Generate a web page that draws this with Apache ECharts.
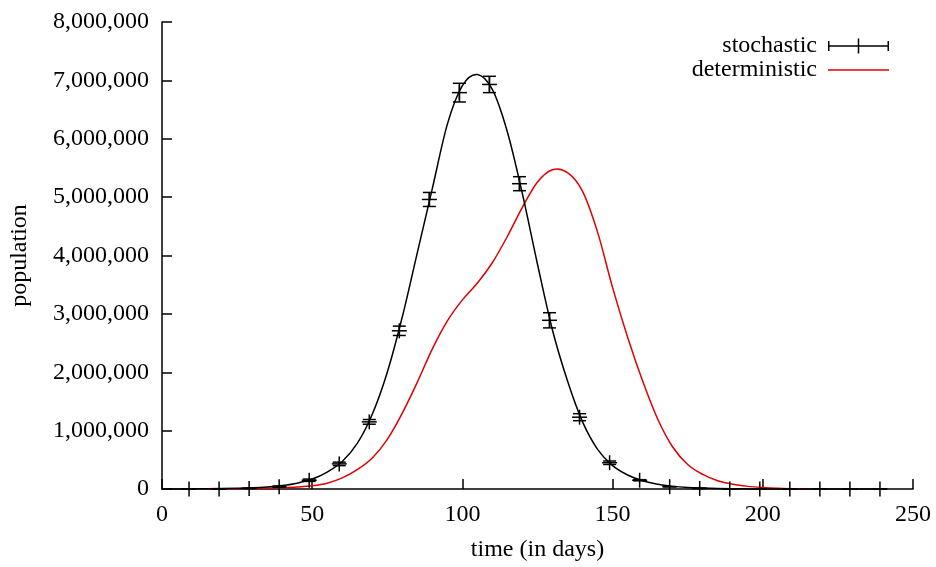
<!DOCTYPE html>
<html>
<head>
    <meta charset="UTF-8">
    <title>population over time</title>
    <script src="https://cdn.jsdelivr.net/npm/echarts@6/dist/echarts.min.js"></script>
    <style>
        body { margin: 0; background: #fff; }
    </style>
</head>
<body>
<div id="container" style="width: 936px; height: 567px;"></div>
<script>

    // axis ticks
    var xTicks = [0, 50, 100, 150, 200, 250];
    var yTicks = [0, 1000000, 2000000, 3000000, 4000000, 5000000, 6000000, 7000000, 8000000];

    // stochastic runs: mean and error, in millions
    var stochDays = [9, 19, 29, 39, 49, 59, 69, 79, 89, 99, 109, 119, 129, 139, 149, 159, 169, 179, 189, 199, 209, 219, 229, 239];
    var stochMean = [0, 0, 0.01, 0.04, 0.15, 0.43, 1.15, 2.71, 4.96, 6.79, 6.93, 5.23, 2.89, 1.23, 0.45, 0.15, 0.04, 0.01, 0, 0, 0, 0, 0, 0];
    var stochErr  = [0, 0, 0, 0.01, 0.02, 0.03, 0.04, 0.08, 0.12, 0.16, 0.14, 0.12, 0.13, 0.06, 0.03, 0.01, 0, 0, 0, 0, 0, 0, 0, 0];

    // smooth curve through the stochastic runs, in millions
    var curveDays = [0, 5, 10, 15, 20, 25, 30, 35, 40, 45, 50, 55, 60, 65, 70, 75, 80, 85, 90, 95, 100, 105, 110, 115, 120,
                     125, 130, 135, 140, 145, 150, 155, 160, 165, 170, 175, 180, 185, 190, 195, 200, 205, 210, 220, 230, 240];
    var curveVals = [0, 0, 0.002, 0.004, 0.007, 0.012, 0.02, 0.035, 0.06, 0.1, 0.17, 0.29, 0.47, 0.78, 1.28, 2.0, 2.95, 4.05, 5.15, 6.25, 6.91, 7.1, 6.84, 6.11, 5.05,
                     3.85, 2.72, 1.85, 1.15, 0.68, 0.4, 0.24, 0.14, 0.08, 0.045, 0.025, 0.015, 0.008, 0.004, 0.002, 0.001, 0, 0, 0, 0, 0];

    // deterministic model, in millions
    var detDays = [15, 20, 25, 30, 35, 40, 45, 50, 55, 60, 65, 70, 75, 80, 85, 90, 95, 100, 105, 110, 115, 120, 125,
                   130, 135, 140, 145, 150, 155, 160, 165, 170, 175, 180, 185, 190, 195, 200, 205, 210, 215];
    var detVals = [0, 0.002, 0.004, 0.007, 0.012, 0.02, 0.033, 0.055, 0.1, 0.19, 0.33, 0.53, 0.85, 1.3, 1.83, 2.4, 2.88, 3.24, 3.53, 3.88, 4.33, 4.83, 5.26,
                   5.47, 5.42, 5.1, 4.4, 3.45, 2.6, 1.85, 1.2, 0.72, 0.42, 0.25, 0.14, 0.08, 0.045, 0.025, 0.012, 0.005, 0];

    var M = 1000000;
    var font = 'Liberation Serif';

    function pairs(xs, ys) {
        var out = [];
        for (var i = 0; i < xs.length; i++) out.push([xs[i], ys[i] * M]);
        return out;
    }
    var errData = [];
    for (var i = 0; i < stochDays.length; i++) {
        errData.push([stochDays[i], stochMean[i] * M, stochErr[i] * M]);
    }

    function commas(v) {
        return String(v).replace(/\B(?=(\d{3})+(?!\d))/g, ',');
    }

    // catmull-rom curve through the points, drawn once per series
    function splineRender(xs, ys, color) {
        return function (params, api) {
            if (params.dataIndex !== 0) return null;
            var p = [];
            for (var i = 0; i < xs.length; i++) p.push(api.coord([xs[i], ys[i] * M]));
            var d = 'M' + p[0][0] + ',' + p[0][1];
            for (var j = 0; j < p.length - 1; j++) {
                var p0 = p[Math.max(j - 1, 0)], p1 = p[j], p2 = p[j + 1], p3 = p[Math.min(j + 2, p.length - 1)];
                var c1x = p1[0] + (p2[0] - p0[0]) / 6, c1y = p1[1] + (p2[1] - p0[1]) / 6;
                var c2x = p2[0] - (p3[0] - p1[0]) / 6, c2y = p2[1] - (p3[1] - p1[1]) / 6;
                d += ' C' + c1x + ',' + c1y + ' ' + c2x + ',' + c2y + ' ' + p2[0] + ',' + p2[1];
            }
            return {
                type: 'path',
                shape: { pathData: d },
                style: { stroke: color, lineWidth: 1.5, fill: null }
            };
        };
    }

    // error bar + cross marker for each stochastic point
    function renderErr(params, api) {
        var x = api.value(0), y = api.value(1), e = api.value(2);
        var c = api.coord([x, y]);
        var hi = api.coord([x, y + e]);
        var lo = api.coord([x, Math.max(y - e, 0)]);
        var st = { stroke: '#000', lineWidth: 1.5 };
        var cap = 6.5, arm = 7.5;
        return {
            type: 'group',
            children: [
                { type: 'line', shape: { x1: c[0], y1: hi[1], x2: c[0], y2: lo[1] }, style: st },
                { type: 'line', shape: { x1: c[0] - cap, y1: hi[1], x2: c[0] + cap, y2: hi[1] }, style: st },
                { type: 'line', shape: { x1: c[0] - cap, y1: lo[1], x2: c[0] + cap, y2: lo[1] }, style: st },
                { type: 'line', shape: { x1: c[0] - arm, y1: c[1], x2: c[0] + arm, y2: c[1] }, style: st },
                { type: 'line', shape: { x1: c[0], y1: c[1] - arm, x2: c[0], y2: c[1] + arm }, style: st }
            ]
        };
    }

    var errIcon = 'path://M0,2.5H1.5V12.5H0Z M0,6.75H61V8.25H0Z M29.75,0H31.25V15H29.75Z M59.5,2.5H61V12.5H59.5Z';
    var lineIcon = 'path://M0,0H61V1.5H0Z';

    var mychart = echarts.init(document.getElementById('container'));
    var option = {
        animation: false,
        textStyle: { fontFamily: font },
        grid: { left: 162, right: 23, top: 22, bottom: 75 },
        legend: {
            orient: 'vertical',
            right: 42,
            top: 29,
            align: 'right',
            itemWidth: 61,
            itemHeight: 15,
            itemGap: 0,
            symbolKeepAspect: true,
            textStyle: { fontFamily: font, fontSize: 24, color: '#000', lineHeight: 24 },
            formatter: function (n) { return n + ' '; },
            data: [
                { name: 'stochastic', icon: errIcon },
                { name: 'deterministic', icon: lineIcon }
            ]
        },
        xAxis: {
            type: 'value',
            min: xTicks[0],
            max: xTicks[xTicks.length - 1],
            interval: xTicks[1] - xTicks[0],
            name: 'time (in days)',
            nameLocation: 'middle',
            nameGap: 49,
            nameTextStyle: { fontFamily: font, fontSize: 24, color: '#000' },
            axisLine: { lineStyle: { color: '#000', width: 1.5 } },
            axisTick: { inside: true, length: 10, lineStyle: { color: '#000', width: 1.5 } },
            axisLabel: { margin: 14, fontFamily: font, fontSize: 24, color: '#000' },
            splitLine: { show: false }
        },
        yAxis: {
            type: 'value',
            min: yTicks[0],
            max: yTicks[yTicks.length - 1],
            interval: yTicks[1] - yTicks[0],
            name: 'population',
            nameLocation: 'middle',
            nameGap: 130,
            nameTextStyle: { fontFamily: font, fontSize: 24, color: '#000' },
            axisLine: { show: true, lineStyle: { color: '#000', width: 1.5 } },
            axisTick: { show: true, inside: true, length: 10, lineStyle: { color: '#000', width: 1.5 } },
            axisLabel: { margin: 13, fontFamily: font, fontSize: 24, color: '#000', formatter: commas },
            splitLine: { show: false }
        },
        series: [
            {
                name: 'stochastic curve',
                type: 'custom',
                data: pairs(curveDays, curveVals),
                renderItem: splineRender(curveDays, curveVals, '#000'),
                itemStyle: { color: '#000' },
                silent: true,
                z: 3
            },
            {
                name: 'stochastic',
                type: 'custom',
                data: errData,
                renderItem: renderErr,
                itemStyle: { color: '#000' },
                z: 4
            },
            {
                name: 'deterministic',
                type: 'custom',
                data: pairs(detDays, detVals),
                renderItem: splineRender(detDays, detVals, '#e00000'),
                itemStyle: { color: '#e00000' },
                silent: true,
                z: 2
            }
        ]
    };
    mychart.setOption(option);

</script>
</body>
</html>
